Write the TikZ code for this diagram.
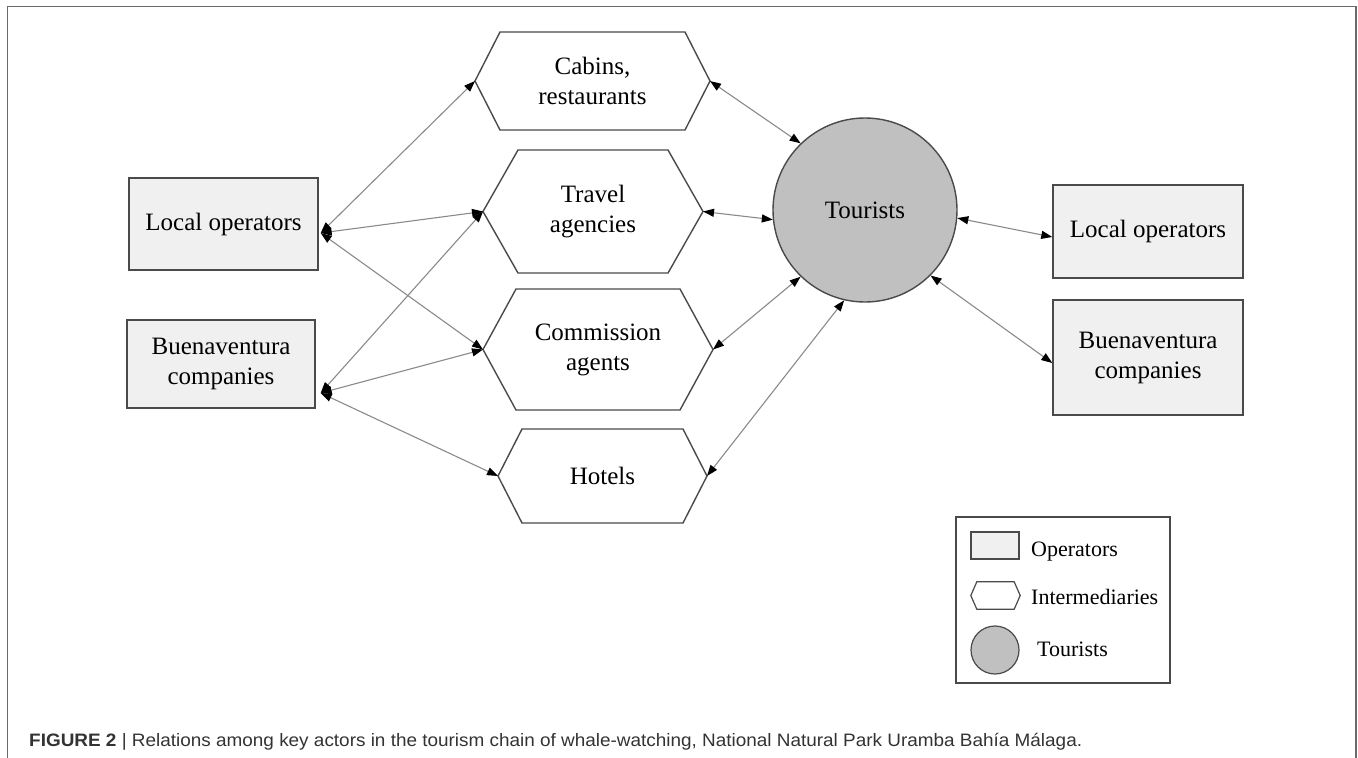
\documentclass[tikz,border=0pt]{standalone}
\usepackage{fontspec}
\setmainfont{Liberation Serif}
\newfontfamily\capfont{Liberation Sans}
\usetikzlibrary{arrows.meta,calc}
\definecolor{boxfill}{HTML}{F0F0F0}
\definecolor{tourfill}{HTML}{C0C0C0}
\definecolor{edgegray}{HTML}{4A4A4A}
\definecolor{conngray}{HTML}{8A8A8A}
\definecolor{framegray}{HTML}{6A6A6A}
\definecolor{capgray}{HTML}{333333}
\newsavebox\capbox
\newlength\capwidth
\begin{document}
\sbox\capbox{\capfont\fontsize{18}{20}\selectfont\color{capgray}{\bfseries FIGURE 2} | Relations among key actors in the tourism chain of whale-watching, National Natural Park Uramba Bahía Málaga.}%
\setlength\capwidth{\wd\capbox}%
\pgfmathsetmacro\capratio{1053/\capwidth}%
\begin{tikzpicture}[x=1pt,y=-1pt,
  mainfont/.style={font=\fontsize{25}{30}\selectfont},
  opbox/.style={draw=edgegray, line width=1.4pt, fill=boxfill, align=center, inner sep=0pt, mainfont},
  hexbody/.style={inner sep=0pt, outer sep=0pt, align=center, mainfont},
  hexline/.style={draw=edgegray, line width=1.4pt, line join=miter},
  tourcircle/.style={circle, draw=edgegray, line width=1.4pt, fill=tourfill, inner sep=0pt},
  link/.style={draw=conngray, line width=1.1pt,
    {Triangle[length=11pt,width=8pt,color=black]}-{Triangle[length=11pt,width=8pt,color=black]}},
  legtext/.style={anchor=base west, inner sep=0pt, font=\fontsize{22}{26}\selectfont},
  frameline/.style={draw=framegray, line width=1.6pt}
]
\useasboundingbox (0,0) rectangle (1358,758);
\draw[frameline] (7.5,770) -- (7.5,6.5) -- (1356,6.5) -- (1356,770);

% operators (left)
\node[opbox, minimum width=189pt, minimum height=92pt] (lo) at (223.5,224) {Local operators};
\node[opbox, minimum width=188pt, minimum height=88pt] (bu) at (221,364) {Buenaventura\\companies};
% operators (right)
\node[opbox, minimum width=190pt, minimum height=93pt] (rlo) at (1148,231.5) {Local operators};
\node[opbox, minimum width=190pt, minimum height=115pt] (rbu) at (1148,357.5) {Buenaventura\\companies};

% intermediaries
\node[hexbody, minimum width=185pt, minimum height=98pt] (cab) at (592.5,81) {Cabins,\\restaurants};
\draw[hexline] (cab.north west) -- (cab.north east) -- ($(cab.east)+(25,0)$) coordinate (cab-e)
  -- (cab.south east) -- (cab.south west) -- ($(cab.west)+(-25,0)$) coordinate (cab-w) -- cycle;
\node[hexbody, minimum width=150pt, minimum height=123pt] (trav) at (593,211.5) {Travel\\agencies};
\draw[hexline] (trav.north west) -- (trav.north east) -- ($(trav.east)+(35,0)$) coordinate (trav-e)
  -- (trav.south east) -- (trav.south west) -- ($(trav.west)+(-35,0)$) coordinate (trav-w) -- cycle;
\node[hexbody, minimum width=164pt, minimum height=121pt] (com) at (598,349.5) {Commission\\agents};
\draw[hexline] (com.north west) -- (com.north east) -- ($(com.east)+(33,0)$) coordinate (com-e)
  -- (com.south east) -- (com.south west) -- ($(com.west)+(-33,0)$) coordinate (com-w) -- cycle;
\node[hexbody, minimum width=161pt, minimum height=94pt] (hot) at (602.5,476) {Hotels};
\draw[hexline] (hot.north west) -- (hot.north east) -- ($(hot.east)+(24,0)$) coordinate (hot-e)
  -- (hot.south east) -- (hot.south west) -- ($(hot.west)+(-24,0)$) coordinate (hot-w) -- cycle;

% tourists
\node[tourcircle, minimum size=184pt, mainfont] (tour) at (865,210) {Tourists};

% connector ends at operator boxes
\coordinate (lo-p) at ($(lo.east)+(2,9)$);
\coordinate (bu-p) at ($(bu.east)+(5,29)$);
\coordinate (rlo-p) at ($(rlo.west)+(0,5.5)$);
\coordinate (rbu-p) at ($(rbu.west)+(0,5.5)$);

% connectors
\draw[link] (lo-p) -- (cab-w);
\draw[link] (lo-p) -- (trav-w);
\draw[link] (lo-p) -- (com-w);
\draw[link] (bu-p) -- (trav-w);
\draw[link] (bu-p) -- (com-w);
\draw[link] (bu-p) -- (hot-w);
\draw[link] (cab-e) -- (tour.134);
\draw[link] (trav-e) -- (tour.186);
\draw[link] (com-e) -- (tour.226);
\draw[link] (hot-e) -- (tour.257);
\draw[link] (tour.355) -- (rlo-p);
\draw[link] (tour.315) -- (rbu-p);

% legend
\node[draw=edgegray, line width=1.4pt, minimum width=214pt, minimum height=166pt, inner sep=0pt] (leg) at (1063,600) {};
\node[draw=edgegray, line width=1.2pt, fill=boxfill, minimum width=48pt, minimum height=27pt, inner sep=0pt] (leg-op) at (995,545.5) {};
\node[inner sep=0pt, minimum width=37pt, minimum height=27pt] (leg-hex) at (995.5,595.5) {};
\draw[hexline, line width=1.2pt] (leg-hex.north west) -- (leg-hex.north east) -- ($(leg-hex.east)+(6,0)$)
  -- (leg-hex.south east) -- (leg-hex.south west) -- ($(leg-hex.west)+(-6,0)$) -- cycle;
\node[tourcircle, line width=1.2pt, minimum size=48pt] (leg-tour) at (995,650) {};
\node[legtext] (leg-op-t) at (1031,556) {Operators};
\node[legtext] (leg-hex-t) at (1031,604) {Intermediaries};
\node[legtext] (leg-tour-t) at (1037,656) {Tourists};

% caption
\node[anchor=base west, inner sep=0pt] (cap) at (29,746) {\scalebox{\capratio}[1]{\usebox\capbox}};
\end{tikzpicture}
\end{document}
